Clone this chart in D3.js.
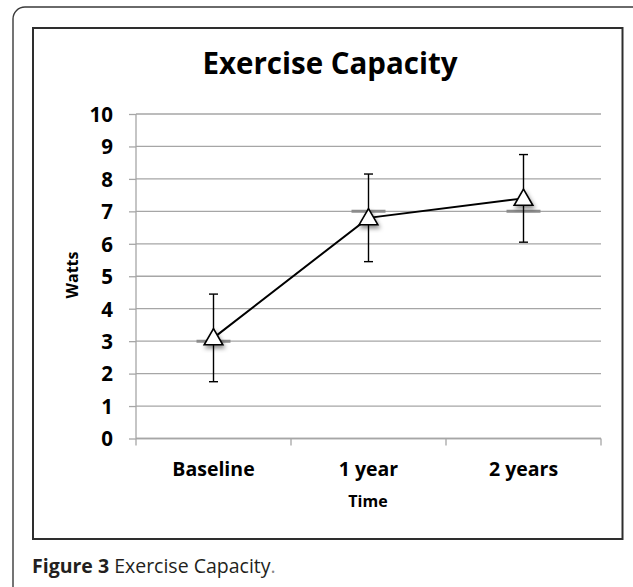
<!DOCTYPE html>
<html>
<head>
<meta charset="utf-8">
<script src="https://cdn.jsdelivr.net/npm/d3@7"></script>
<style>
  html, body { margin: 0; padding: 0; background: #fff; }
  svg { display: block; }
</style>
</head>
<body>
<svg id="chart" width="633" height="587"></svg>
<script>
// ---- data ----
const categories = ["Baseline", "1 year", "2 years"];
const meanWatts = [3.1, 6.8, 7.4];
const errorWatts = [1.35, 1.35, 1.35];
const refLevels = [3, 7, 7];
const yTicks = [0, 1, 2, 3, 4, 5, 6, 7, 8, 9, 10];
const chartTitle = "Exercise Capacity";
const xTitle = "Time";
const yTitle = "Watts";
const captionBold = "Figure 3";
const captionText = " Exercise Capacity";

const svg = d3.select("#chart");
const font = "'Open Sans', 'Noto Sans', sans-serif";

// drop shadow filter
const defs = svg.append("defs");
const f = defs.append("filter").attr("id", "shadow").attr("x", "-50%").attr("y", "-50%").attr("width", "200%").attr("height", "200%");
f.append("feDropShadow").attr("dx", 1.5).attr("dy", 3).attr("stdDeviation", 2.2).attr("flood-color", "#000").attr("flood-opacity", 0.45);

// outer rounded frame
svg.append("rect").attr("x", 13).attr("y", 7).attr("width", 640).attr("height", 600)
  .attr("rx", 12).attr("fill", "none").attr("stroke", "#3a3a3a").attr("stroke-width", 1.4);

// inner chart frame
svg.append("rect").attr("x", 33).attr("y", 28).attr("width", 589.5).attr("height", 511)
  .attr("fill", "#fff").attr("stroke", "#2e2e2e").attr("stroke-width", 2);

const x0 = 136, x1 = 601, yTop = 114, yBot = 438.5;
const x = d3.scaleBand().domain(categories).range([x0, x1]).padding(0);
const y = d3.scaleLinear().domain([0, 10]).range([yBot, yTop]);

// gridlines
svg.append("g").selectAll("line").data(yTicks).join("line")
  .attr("x1", x0).attr("x2", x1)
  .attr("y1", d => y(d)).attr("y2", d => y(d))
  .attr("stroke", "#a6a6a6").attr("stroke-width", 1.3);

// y axis
const yAxis = svg.append("g").attr("transform", `translate(${x0},0)`)
  .call(d3.axisLeft(y).tickValues(yTicks).tickSize(7).tickPadding(16).tickFormat(d3.format("d")));
yAxis.select(".domain").attr("stroke", "#a6a6a6").attr("stroke-width", 1.3).attr("d", `M0,${yTop}V${yBot}`);
yAxis.selectAll(".tick line").attr("stroke", "#a6a6a6").attr("stroke-width", 1.3);
yAxis.selectAll(".tick text").attr("font-family", font).attr("font-weight", "bold")
  .attr("font-size", 20.5).attr("fill", "#000").attr("dy", "0.36em");

// x axis
const xAxis = svg.append("g").attr("transform", `translate(0,${yBot})`);
xAxis.append("line").attr("x1", x0).attr("x2", x1).attr("stroke", "#a6a6a6").attr("stroke-width", 1.3);
const bounds = categories.map(c => x(c)).concat([x1]);
xAxis.selectAll("line.tk").data(bounds).join("line").attr("class", "tk")
  .attr("x1", d => d).attr("x2", d => d).attr("y1", 0).attr("y2", 7)
  .attr("stroke", "#a6a6a6").attr("stroke-width", 1.3);
xAxis.selectAll("text").data(categories).join("text")
  .attr("x", d => x(d) + x.bandwidth() / 2).attr("y", 37)
  .attr("text-anchor", "middle").attr("font-family", font).attr("font-weight", "bold")
  .attr("font-size", 19.5).attr("fill", "#000").text(d => d);

const cx = c => x(c) + x.bandwidth() / 2;

// reference level bars (grey)
svg.append("g").selectAll("line").data(categories).join("line")
  .attr("x1", c => cx(c) - 17).attr("x2", c => cx(c) + 17)
  .attr("y1", (c, i) => y(refLevels[i])).attr("y2", (c, i) => y(refLevels[i]))
  .attr("stroke", "#8c8c8c").attr("stroke-width", 3);

// error bars
const eb = svg.append("g").attr("stroke", "#000").attr("stroke-width", 1.4);
categories.forEach((c, i) => {
  const hi = y(meanWatts[i] + errorWatts[i]), lo = y(meanWatts[i] - errorWatts[i]);
  eb.append("line").attr("x1", cx(c)).attr("x2", cx(c)).attr("y1", hi).attr("y2", lo);
  eb.append("line").attr("x1", cx(c) - 4.5).attr("x2", cx(c) + 4.5).attr("y1", hi).attr("y2", hi);
  eb.append("line").attr("x1", cx(c) - 4.5).attr("x2", cx(c) + 4.5).attr("y1", lo).attr("y2", lo);
});

// line
const line = d3.line().x((d, i) => cx(categories[i])).y(d => y(d));
svg.append("path").datum(meanWatts).attr("d", line)
  .attr("fill", "none").attr("stroke", "#000").attr("stroke-width", 2);

// markers
const tri = d3.symbol().type(d3.symbolTriangle).size(150);
svg.append("g").selectAll("path").data(meanWatts).join("path")
  .attr("d", tri)
  .attr("transform", (d, i) => `translate(${cx(categories[i])},${y(d) + 1.5})`)
  .attr("fill", "#fff").attr("stroke", "#000").attr("stroke-width", 1.6)
  .attr("filter", "url(#shadow)");

// titles
svg.append("text").attr("x", 330).attr("y", 74).attr("text-anchor", "middle")
  .attr("font-family", font).attr("font-weight", "bold").attr("font-size", 29.5).attr("fill", "#000")
  .text(chartTitle);
svg.append("text").attr("x", 368).attr("y", 507).attr("text-anchor", "middle")
  .attr("font-family", font).attr("font-weight", "bold").attr("font-size", 16).attr("fill", "#000")
  .text(xTitle);
svg.append("text").attr("transform", "translate(78,275) rotate(-90)").attr("text-anchor", "middle")
  .attr("font-family", font).attr("font-weight", "bold").attr("font-size", 16).attr("fill", "#000")
  .text(yTitle);

// caption
const cap = svg.append("text").attr("x", 32).attr("y", 573)
  .attr("font-family", "'Open Sans', 'Noto Sans', sans-serif").attr("font-size", 19.5).attr("fill", "#231f20");
cap.append("tspan").attr("font-weight", "bold").text(captionBold);
cap.append("tspan").text(captionText);
cap.append("tspan").attr("fill", "#888").text(".");
</script>
</body>
</html>
